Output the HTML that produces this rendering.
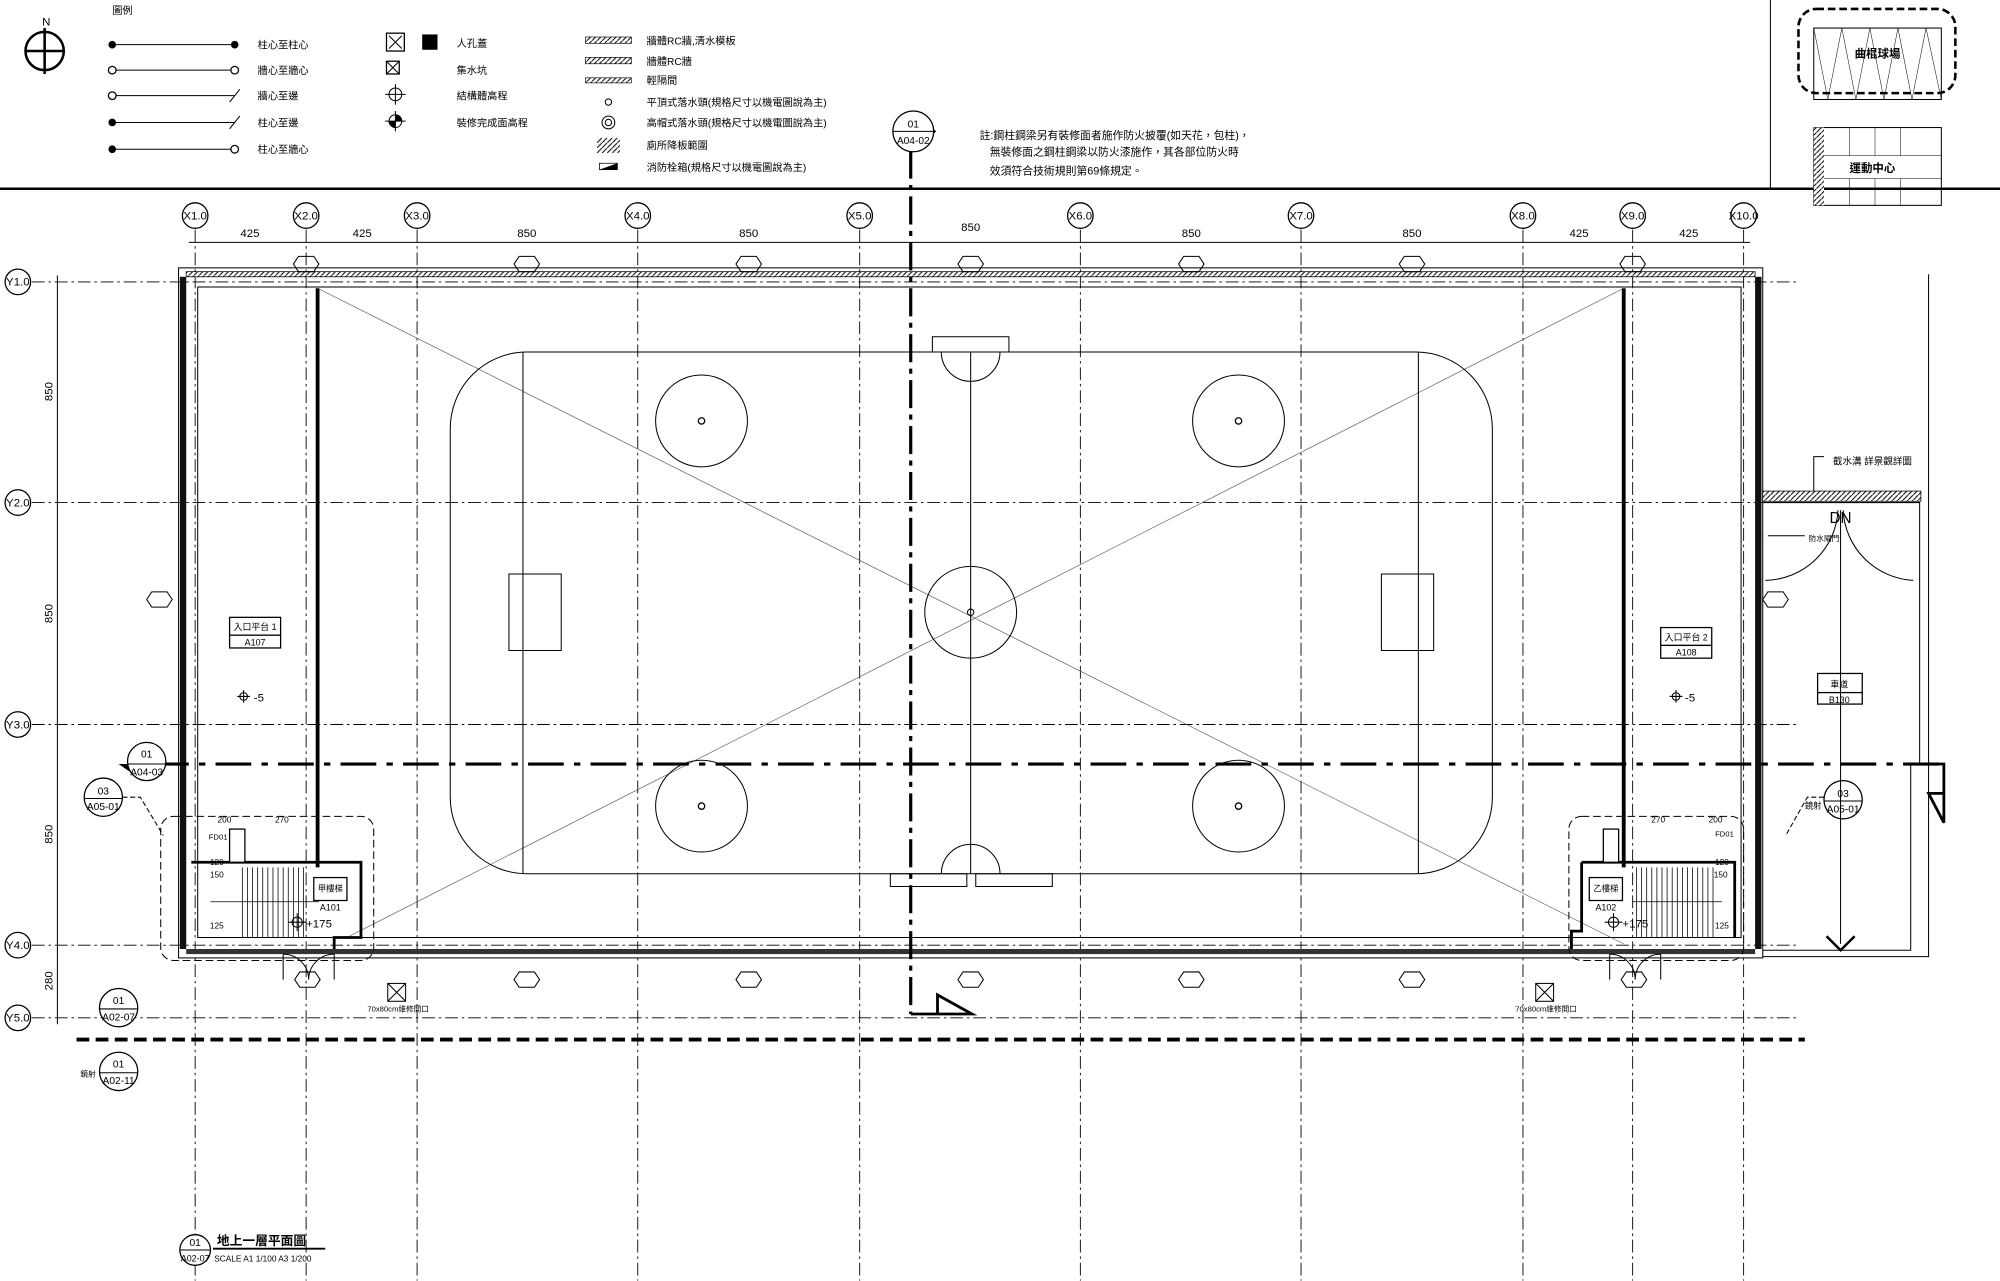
<!DOCTYPE html>
<html><head><meta charset="utf-8"><style>
html,body{margin:0;padding:0;background:#fff}
svg{display:block}
text{font-family:"Liberation Sans","Noto Sans CJK TC",sans-serif;fill:#000}
.g{stroke:#000;stroke-width:.7;stroke-dasharray:10 3 2 3;fill:none}
.l{stroke:#000;stroke-width:.8;fill:none}
.t{stroke:#000;stroke-width:2.2;fill:none}
.b{fill:#fff;stroke:#000;stroke-width:1}
</style></head><body>
<svg width="2000" height="1281" viewBox="0 0 1568 1004.3" xmlns="http://www.w3.org/2000/svg">
<defs>
<pattern id="h" width="4" height="4" patternUnits="userSpaceOnUse"><rect width="4" height="4" fill="#fff"/><path d="M0 4L4 0" stroke="#000" stroke-width=".8"/></pattern>
</defs>
<!-- header -->
<line x1="0" y1="148" x2="1568" y2="148" stroke="#000" stroke-width="2"/>
<line x1="1388" y1="0" x2="1388" y2="148" class="l"/>
<text x="33" y="20" font-size="9">N</text>
<circle cx="35" cy="40" r="15" fill="none" stroke="#000" stroke-width="2"/>
<line x1="35" y1="22" x2="35" y2="58" stroke="#000" stroke-width="2"/><line x1="20" y1="40" x2="50" y2="40" stroke="#000" stroke-width="2"/>
<text x="88" y="11" font-size="8">圖例</text>
<g font-size="8">
<line x1="88" y1="35" x2="184" y2="35" class="l"/><circle cx="88" cy="35" r="3"/><circle cx="184" cy="35" r="3"/><text x="202" y="38">柱心至柱心</text>
<line x1="88" y1="55" x2="184" y2="55" class="l"/><circle cx="88" cy="55" r="3" class="b"/><circle cx="184" cy="55" r="3" class="b"/><text x="202" y="58">牆心至牆心</text>
<line x1="88" y1="75" x2="184" y2="75" class="l"/><circle cx="88" cy="75" r="3" class="b"/><path d="M180 80L188 70" class="l"/><text x="202" y="78">牆心至邊</text>
<line x1="88" y1="96" x2="184" y2="96" class="l"/><circle cx="88" cy="96" r="3"/><path d="M180 101L188 91" class="l"/><text x="202" y="99">柱心至邊</text>
<line x1="88" y1="117" x2="184" y2="117" class="l"/><circle cx="88" cy="117" r="3"/><circle cx="184" cy="117" r="3" class="b"/><text x="202" y="120">柱心至牆心</text>
<rect x="303" y="26" width="14" height="14" class="b" stroke-width="1.5"/><path d="M305 28L315 38M315 28L305 38" class="l"/><rect x="331" y="27" width="12" height="12"/><text x="358" y="37">人孔蓋</text>
<rect x="303" y="48" width="10" height="10" class="b"/><path d="M303 48L313 58M313 48L303 58" class="l"/><text x="358" y="58">集水坑</text>
<circle cx="310" cy="74" r="5" class="l"/><path d="M310 66V82M302 74H318" class="l"/><text x="358" y="78">結構體高程</text>
<circle cx="310" cy="95" r="5" class="l"/><path d="M310 95V100A5 5 0 0 1 305 95ZM310 95V90A5 5 0 0 1 315 95Z"/><path d="M310 87V103M302 95H318" class="l"/><text x="358" y="99">裝修完成面高程</text>
<rect x="459" y="29" width="36" height="5" fill="url(#h)" stroke="#000" stroke-width=".5"/><text x="507" y="35">牆體RC牆,清水模板</text>
<rect x="459" y="45" width="36" height="5" fill="url(#h)" stroke="#000" stroke-width=".5"/><text x="507" y="51">牆體RC牆</text>
<rect x="459" y="61" width="36" height="4" fill="url(#h)" stroke="#000" stroke-width=".5"/><text x="507" y="66">輕隔間</text>
<circle cx="477" cy="80" r="2.5" class="l"/><text x="507" y="83">平頂式落水頭(規格尺寸以機電圖說為主)</text>
<circle cx="477" cy="96" r="5" class="l"/><circle cx="477" cy="96" r="2.5" class="l"/><text x="507" y="99">高帽式落水頭(規格尺寸以機電圖說為主)</text>
<rect x="468" y="108" width="18" height="12" fill="url(#h)"/><text x="507" y="117">廁所降板範圍</text>
<path d="M470 133H484V128Z"/><rect x="470" y="128" width="14" height="5" fill="none" stroke="#000" stroke-width=".6"/><text x="507" y="134">消防栓箱(規格尺寸以機電圖說為主)</text>
</g>
<g font-size="8.5"><text x="768" y="109">註:鋼柱鋼梁另有裝修面者施作防火披覆(如天花，包柱)，</text>
<text x="776" y="122">無裝修面之鋼柱鋼梁以防火漆施作，其各部位防火時</text>
<text x="776" y="137">效須符合技術規則第69條規定。</text></g>
<!-- key plan -->
<rect x="1410" y="7" width="123" height="66" rx="14" fill="none" stroke="#000" stroke-width="2" stroke-dasharray="6 3"/>
<rect x="1422" y="22" width="100" height="56" class="l" stroke-width=".5"/>
<path d="M1422 22L1433 78L1444 22L1455 78L1466 22L1477 78L1488 22L1499 78L1510 22L1522 78" stroke="#000" stroke-width=".4" fill="none"/>
<text x="1472" y="45" font-size="9" text-anchor="middle" font-weight="bold">曲棍球場</text>
<rect x="1422" y="100" width="100" height="61" class="l" stroke-width=".6"/>
<rect x="1422" y="100" width="8" height="61" fill="url(#h)"/>
<path d="M1430 122H1522M1430 140H1522M1450 100V122M1470 100V122M1490 100V122M1450 140V161M1470 140V161M1490 140V161" stroke="#000" stroke-width=".4"/>
<text x="1468" y="135" font-size="9" text-anchor="middle" font-weight="bold">運動中心</text>
<!-- grid lines -->
<g class="g">
<line x1="153" y1="180" x2="153" y2="1004"/><line x1="240" y1="180" x2="240" y2="1004"/><line x1="327" y1="180" x2="327" y2="1004"/><line x1="500" y1="180" x2="500" y2="1004"/><line x1="674" y1="180" x2="674" y2="1004"/><line x1="847" y1="180" x2="847" y2="1004"/><line x1="1020" y1="180" x2="1020" y2="1004"/><line x1="1194" y1="180" x2="1194" y2="1004"/><line x1="1280" y1="180" x2="1280" y2="1004"/><line x1="1367" y1="180" x2="1367" y2="1004"/>
<line x1="25" y1="221" x2="1410" y2="221"/><line x1="25" y1="394" x2="1410" y2="394"/><line x1="25" y1="568" x2="1410" y2="568"/><line x1="25" y1="741" x2="1410" y2="741"/><line x1="25" y1="798" x2="1410" y2="798"/>
</g>
<g font-size="9" text-anchor="middle">
<circle cx="153" cy="169" r="10" class="b"/><text x="153" y="172">X1.0</text>
<circle cx="240" cy="169" r="10" class="b"/><text x="240" y="172">X2.0</text>
<circle cx="327" cy="169" r="10" class="b"/><text x="327" y="172">X3.0</text>
<circle cx="500" cy="169" r="10" class="b"/><text x="500" y="172">X4.0</text>
<circle cx="674" cy="169" r="10" class="b"/><text x="674" y="172">X5.0</text>
<circle cx="847" cy="169" r="10" class="b"/><text x="847" y="172">X6.0</text>
<circle cx="1020" cy="169" r="10" class="b"/><text x="1020" y="172">X7.0</text>
<circle cx="1194" cy="169" r="10" class="b"/><text x="1194" y="172">X8.0</text>
<circle cx="1280" cy="169" r="10" class="b"/><text x="1280" y="172">X9.0</text>
<circle cx="1367" cy="169" r="10" class="b"/><text x="1367" y="172">X10.0</text>
<circle cx="14" cy="221" r="10" class="b"/><text x="14" y="224">Y1.0</text>
<circle cx="14" cy="394" r="10" class="b"/><text x="14" y="397">Y2.0</text>
<circle cx="14" cy="568" r="10" class="b"/><text x="14" y="571">Y3.0</text>
<circle cx="14" cy="741" r="10" class="b"/><text x="14" y="744">Y4.0</text>
<circle cx="14" cy="798" r="10" class="b"/><text x="14" y="801">Y5.0</text>
<!-- dims -->
<line x1="148" y1="190" x2="1372" y2="190" class="l" stroke-width=".5"/>
<text x="196" y="186">425</text><text x="284" y="186">425</text><text x="413" y="186">850</text><text x="587" y="186">850</text><text x="761" y="181">850</text><text x="934" y="186">850</text><text x="1107" y="186">850</text><text x="1238" y="186">425</text><text x="1324" y="186">425</text>
<line x1="45" y1="216" x2="45" y2="803" class="l" stroke-width=".5"/>
<text transform="translate(41 307) rotate(-90)">850</text><text transform="translate(41 481) rotate(-90)">850</text><text transform="translate(41 654) rotate(-90)">850</text><text transform="translate(41 769) rotate(-90)">280</text>
</g>
<!-- building walls -->
<rect x="140" y="210" width="1242" height="541" class="l"/>
<rect x="146" y="213" width="1230" height="4" fill="url(#h)" stroke="#000" stroke-width=".6"/>
<rect x="146" y="744" width="1230" height="4" fill="#333"/>
<rect x="141" y="217" width="5" height="527" fill="#111"/>
<rect x="1376" y="217" width="5" height="527" fill="#111"/>
<rect x="155" y="225" width="1210" height="510" class="l" stroke-width=".6"/>
<line x1="249" y1="226" x2="249" y2="680" stroke="#000" stroke-width="3"/>
<line x1="1273" y1="226" x2="1273" y2="680" stroke="#000" stroke-width="3"/>
<!-- field -->
<line x1="249" y1="226" x2="1273" y2="740" stroke="#555" stroke-width=".5"/>
<line x1="1273" y1="226" x2="270" y2="736" stroke="#555" stroke-width=".5"/>
<rect x="353" y="276" width="817" height="409" rx="60" class="l" stroke-width=".7"/>
<path d="M410 276V685M1112 276V685M761 276V685" class="l" stroke-width=".6"/>
<circle cx="761" cy="480" r="36" class="l" stroke-width=".6"/><circle cx="761" cy="480" r="2.5" class="l"/>
<g class="l" stroke-width=".6"><circle cx="550" cy="330" r="36"/><circle cx="971" cy="330" r="36"/><circle cx="550" cy="632" r="36"/><circle cx="971" cy="632" r="36"/></g>
<g><circle cx="550" cy="330" r="2.5" class="b"/><circle cx="971" cy="330" r="2.5" class="b"/><circle cx="550" cy="632" r="2.5" class="b"/><circle cx="971" cy="632" r="2.5" class="b"/></g>
<path d="M399 450H440V510H399ZM1083 450H1124V510H1083Z" class="l" stroke-width=".6"/>
<path d="M731 264H791V276H731ZM738 276A23 23 0 0 0 784 276M698 685H758V695H698ZM765 685H825V695H765ZM738 685A23 23 0 0 1 784 685" class="l" stroke-width=".6"/>
<!-- section lines -->
<line x1="714" y1="118" x2="714" y2="795" stroke="#000" stroke-width="2.5" stroke-dasharray="22 5 4 5"/>
<path d="M716 87L734 103L716 119Z"/><circle cx="716" cy="103" r="16" class="b"/><line x1="700" y1="103" x2="732" y2="103" class="l"/>
<text x="716" y="100" font-size="8" text-anchor="middle">01</text><text x="716" y="113" font-size="8" text-anchor="middle">A04-02</text>
<path d="M714 795H762L735 780V795" class="t" stroke-width="2"/>
<line x1="120" y1="599" x2="1520" y2="599" stroke="#000" stroke-width="2.5" stroke-dasharray="28 8 5 8"/>
<path d="M1505 599H1524V645L1512 622H1524" class="t" stroke-width="2"/>
<line x1="60" y1="815" x2="1415" y2="815" stroke="#000" stroke-width="3" stroke-dasharray="10 5"/>
<!-- section bubbles -->
<path d="M93 599H131L112 612Z"/><circle cx="115" cy="597" r="15" class="b"/><line x1="100" y1="599" x2="130" y2="599" class="l"/>
<text x="115" y="594" font-size="8" text-anchor="middle">01</text><text x="115" y="608" font-size="8" text-anchor="middle">A04-03</text>
<circle cx="81" cy="625" r="15" class="b"/><line x1="66" y1="626" x2="96" y2="626" class="l"/><text x="81" y="623" font-size="8" text-anchor="middle">03</text><text x="81" y="635" font-size="8" text-anchor="middle">A05-01</text>
<path d="M96 625H110L128 655" class="l" stroke-dasharray="4 2"/>
<circle cx="1445" cy="627" r="15" class="b"/><line x1="1430" y1="628" x2="1460" y2="628" class="l"/><text x="1445" y="625" font-size="8" text-anchor="middle">03</text><text x="1445" y="637" font-size="8" text-anchor="middle">A05-01</text>
<text x="1428" y="634" font-size="6.5" text-anchor="end">鏡射</text>
<path d="M1430 625H1417L1400 655" class="l" stroke-dasharray="4 2"/>
<circle cx="93" cy="790" r="15" class="b"/><line x1="78" y1="791" x2="108" y2="791" class="l"/><text x="93" y="787" font-size="8" text-anchor="middle">01</text><text x="93" y="800" font-size="8" text-anchor="middle">A02-07</text>
<circle cx="93" cy="840" r="15" class="b"/><line x1="78" y1="841" x2="108" y2="841" class="l"/><text x="93" y="837" font-size="8" text-anchor="middle">01</text><text x="93" y="850" font-size="8" text-anchor="middle">A02-11</text>
<text x="75" y="844" font-size="6" text-anchor="end">鏡射</text>
<!-- stair blocks -->
<rect x="126" y="640" width="167" height="113" rx="10" class="l" stroke-dasharray="6 3"/>
<rect x="1230" y="640" width="137" height="113" rx="10" class="l" stroke-dasharray="6 3"/>
<path d="M150 676H283V735H262V744M150 676" class="t" stroke-width="2"/>
<path d="M1240 676H1360V735M1240 676V730H1232V744" class="t" stroke-width="2"/>
<g stroke="#000" stroke-width=".6">
<path d="M190 680V735M194 680V735M198 680V735M202 680V735M206 680V735M210 680V735M214 680V735M218 680V735M222 680V735M226 680V735M230 680V735M234 680V735M238 680V735"/>
<path d="M1283 680V735M1287 680V735M1291 680V735M1295 680V735M1299 680V735M1303 680V735M1307 680V735M1311 680V735M1315 680V735M1319 680V735M1323 680V735M1327 680V735M1331 680V735M1335 680V735M1339 680V735M1343 680V735"/>
<path d="M165 707H250M1280 707H1350"/>
</g>
<rect x="180" y="650" width="12" height="26" class="b" stroke-width="2"/>
<rect x="1257" y="650" width="12" height="26" class="b" stroke-width="2"/>
<rect x="246" y="688" width="26" height="18" class="b"/><text x="259" y="699" font-size="6.5" text-anchor="middle">甲樓梯</text><text x="259" y="714" font-size="7" text-anchor="middle">A101</text>
<rect x="1246" y="688" width="26" height="18" class="b"/><text x="1259" y="699" font-size="6.5" text-anchor="middle">乙樓梯</text><text x="1259" y="714" font-size="7" text-anchor="middle">A102</text>
<g font-size="6.5" text-anchor="middle"><text x="176" y="645">200</text><text x="221" y="645">270</text><text x="170" y="678">120</text><text x="170" y="688">150</text><text x="170" y="728">125</text>
<text x="1300" y="645">270</text><text x="1345" y="645">200</text><text x="1350" y="678">120</text><text x="1349" y="688">150</text><text x="1350" y="728">125</text>
<text x="171" y="658" font-size="6">FD01</text><text x="1352" y="656" font-size="6">FD01</text></g>
<g font-size="9"><circle cx="233" cy="723" r="4" class="l"/><path d="M226 723H240M233 716V730" class="l"/><text x="240" y="727">+175</text>
<circle cx="1265" cy="723" r="4" class="l"/><path d="M1258 723H1272M1265 716V730" class="l"/><text x="1272" y="727">+175</text>
<circle cx="191" cy="546" r="3" class="l"/><path d="M186 546H196M191 541V551" class="l"/><text x="199" y="550">-5</text>
<circle cx="1314" cy="546" r="3" class="l"/><path d="M1309 546H1319M1314 541V551" class="l"/><text x="1321" y="550">-5</text></g>
<!-- doors -->
<path d="M222 748V768M262 748V768M222 748A20 20 0 0 1 242 768M262 748A20 20 0 0 0 242 768" class="l" stroke-width=".6"/>
<path d="M1262 748V768M1302 748V768M1262 748A20 20 0 0 1 1282 768M1302 748A20 20 0 0 0 1282 768" class="l" stroke-width=".6"/>
<!-- room tags -->
<rect x="180" y="484" width="40" height="14" class="b"/><rect x="180" y="498" width="40" height="10" class="b"/>
<text x="200" y="494" font-size="7" text-anchor="middle">入口平台 1</text><text x="200" y="506" font-size="7" text-anchor="middle">A107</text>
<rect x="1302" y="492" width="40" height="14" class="b"/><rect x="1302" y="506" width="40" height="10" class="b"/>
<text x="1322" y="502" font-size="7" text-anchor="middle">入口平台 2</text><text x="1322" y="514" font-size="7" text-anchor="middle">A108</text>
<rect x="1425" y="528" width="35" height="15" class="b"/><rect x="1425" y="543" width="35" height="9" class="b"/>
<text x="1442" y="539" font-size="7" text-anchor="middle">車道</text><text x="1442" y="551" font-size="7" text-anchor="middle">B130</text>
<!-- small hex tags -->
<g font-size="5" text-anchor="middle">
<g class="l" stroke-width=".6">
<path d="M234 201h12l4 6-4 6h-12l-4-6z"/><path d="M407 201h12l4 6-4 6h-12l-4-6z"/><path d="M581 201h12l4 6-4 6h-12l-4-6z"/><path d="M755 201h12l4 6-4 6h-12l-4-6z"/><path d="M928 201h12l4 6-4 6h-12l-4-6z"/><path d="M1101 201h12l4 6-4 6h-12l-4-6z"/><path d="M1274 201h12l4 6-4 6h-12l-4-6z"/>
<path d="M407 762h12l4 6-4 6h-12l-4-6z"/><path d="M581 762h12l4 6-4 6h-12l-4-6z"/><path d="M755 762h12l4 6-4 6h-12l-4-6z"/><path d="M928 762h12l4 6-4 6h-12l-4-6z"/><path d="M1101 762h12l4 6-4 6h-12l-4-6z"/>
<path d="M235 762h12l4 6-4 6h-12l-4-6z"/><path d="M1275 762h12l4 6-4 6h-12l-4-6z"/>
<path d="M119 464h12l4 6-4 6h-12l-4-6z"/><path d="M1386 464h12l4 6-4 6h-12l-4-6z"/>
</g>
</g>
<!-- manholes -->
<rect x="304" y="771" width="14" height="14" class="l" stroke-width=".6"/><path d="M304 771L318 785M318 771L304 785" class="l" stroke-width=".5"/>
<rect x="1204" y="771" width="14" height="14" class="l" stroke-width=".6"/><path d="M1204 771L1218 785M1218 771L1204 785" class="l" stroke-width=".5"/>
<text x="288" y="793" font-size="6">70x80cm維修開口</text><text x="1188" y="793" font-size="6">70x80cm維修開口</text>
<!-- right ramp -->
<rect x="1382" y="385" width="124" height="8" fill="url(#h)" stroke="#000" stroke-width=".6"/>
<path d="M1382 394H1505V600M1498 600V745H1382M1512 215V750H1382" class="l"/>
<path d="M1422 385V358H1430" class="l" stroke-width=".6"/>
<text x="1437" y="364" font-size="7.5">截水溝 詳景觀詳圖</text>
<line x1="1443" y1="400" x2="1443" y2="740" class="l" stroke-width=".6"/>
<path d="M1432 734L1443 745L1454 734" stroke="#000" stroke-width="2" fill="none"/>
<text x="1443" y="410" font-size="12" text-anchor="middle">DN</text>
<text x="1418" y="424" font-size="6">防水閘門</text>
<path d="M1386 420H1415" class="l" stroke-width=".5"/>
<path d="M1384 455A58 58 0 0 0 1441 400M1445 400A58 58 0 0 0 1500 455" class="l" stroke-width=".5"/>
<!-- title -->
<circle cx="153" cy="980" r="12" class="b"/><line x1="141" y1="980" x2="165" y2="980" class="l"/>
<text x="153" y="977" font-size="8" text-anchor="middle">01</text><text x="153" y="989" font-size="7" text-anchor="middle">A02-07</text>
<line x1="167" y1="979" x2="255" y2="979" stroke="#000" stroke-width="1.5"/>
<text x="170" y="976" font-size="10" font-weight="bold">地上一層平面圖</text>
<text x="168" y="989" font-size="6.5">SCALE A1 1/100  A3 1/200</text>
</svg>
</body></html>
